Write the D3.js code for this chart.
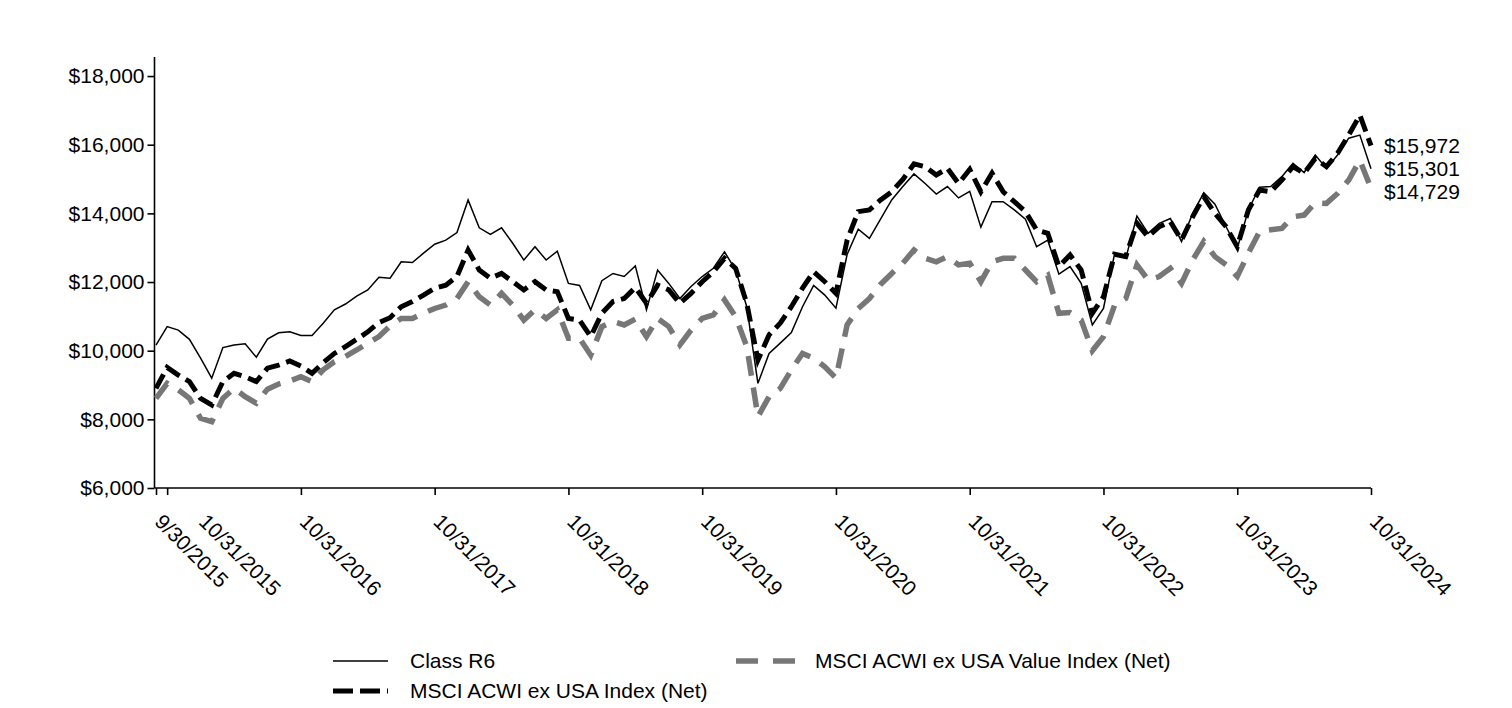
<!DOCTYPE html>
<html>
<head>
<meta charset="utf-8">
<script src="https://cdn.jsdelivr.net/npm/d3@7"></script>
<style>
  html, body { margin: 0; padding: 0; background: #fff; }
  svg text { font-family: Arial, "Liberation Sans", sans-serif; fill: #000; }
</style>
</head>
<body>
<svg id="chart" width="1512" height="708"></svg>
<script>
// ---- Data (monthly, 9/30/2015 .. 10/31/2024) ----
const seriesNames = ["Class R6", "MSCI ACWI ex USA Index (Net)", "MSCI ACWI ex USA Value Index (Net)"];

const classR6 = [
  10165,10700,10600,10330,9780,9200,10090,10165,10200,9810,10340,10520,10550,10440,10440,10800,
  11190,11360,11590,11770,12140,12110,12590,12570,12840,13100,13220,13440,14390,13580,13390,13580,
  13130,12640,13030,12640,12900,11960,11900,11190,12040,12250,12160,12470,11190,12350,11960,11520,
  11870,12160,12400,12880,12350,11280,9050,9920,10220,10530,11280,11900,11620,11240,12800,13540,
  13270,13830,14390,14780,15150,14870,14560,14780,14450,14640,13600,14340,14340,14100,13830,13030,
  13220,12230,12450,11960,10750,11230,12830,12690,13920,13420,13710,13850,13180,14000,14600,14270,
  13610,12980,14100,14760,14780,15070,15460,15190,15700,15310,15700,16190,16280,15301
];

const acwiExUsa = [
  8900,9515,9290,9100,8610,8420,9100,9340,9240,9100,9490,9580,9700,9550,9340,9650,
  9920,10120,10330,10550,10820,10960,11280,11430,11620,11820,11910,12160,12930,12350,12110,12250,
  12010,11770,12010,11770,11720,10940,10890,10410,11090,11430,11520,11840,11380,11910,11770,11380,
  11670,12010,12300,12690,12400,11380,9730,10460,10800,11280,11820,12300,12010,11670,13220,14050,
  14100,14390,14630,14990,15440,15360,15120,15310,14870,15280,14630,15170,14630,14340,14050,13520,
  13420,12450,12790,12350,11090,11570,12810,12740,13710,13320,13610,13760,13220,13900,14490,14000,
  13610,13030,14100,14680,14630,14970,15360,15170,15600,15360,15750,16280,16860,15972
];

const acwiExUsaValue = [
  8610,9050,8860,8610,8030,7930,8610,8900,8660,8470,8880,9030,9120,9240,9100,9440,
  9680,9830,10020,10220,10410,10720,10940,10940,11090,11230,11330,11520,12010,11570,11330,11670,
  11330,10890,11190,10940,11190,10360,10360,9870,10700,10850,10750,10920,10410,10940,10700,10170,
  10600,10940,11040,11480,10990,10120,8080,8660,8900,9440,9920,9780,9530,9200,10750,11230,
  11520,11930,12250,12550,12930,12690,12590,12740,12500,12550,12010,12590,12690,12690,12350,12010,
  12200,11090,11110,10890,10000,10410,11330,11520,12500,12060,12160,12400,11960,12640,13180,12740,
  12500,12160,12840,13470,13520,13560,13900,13950,14310,14290,14580,14970,15550,14729
];

const xTickIndex = [0, 1, 13, 25, 37, 49, 61, 73, 85, 97, 109];
const xTickLabels = ["9/30/2015","10/31/2015","10/31/2016","10/31/2017","10/31/2018","10/31/2019",
                     "10/31/2020","10/31/2021","10/31/2022","10/31/2023","10/31/2024"];
const yTickValues = [6000, 8000, 10000, 12000, 14000, 16000, 18000];

// ---- Chart ----
const svg = d3.select("#chart");
const FONT = 21;

const x = d3.scaleLinear().domain([0, classR6.length - 1]).range([156, 1371]);
const y = d3.scaleLinear().domain([6000, 18555]).range([488, 57]);

// y axis
const yAxis = svg.append("g")
  .attr("transform", "translate(154.5,0)")
  .call(d3.axisLeft(y).tickValues(yTickValues).tickSize(7).tickPadding(3)
        .tickFormat(d => "$" + d3.format(",")(d)));
yAxis.selectAll("path, line").attr("stroke", "#000").attr("stroke-width", 1.6);
yAxis.select(".domain").attr("d", `M0,${y.range()[0]}V${y.range()[1]}`);
yAxis.selectAll("text").style("font-size", FONT + "px");

// x axis
const xAxis = svg.append("g")
  .attr("transform", "translate(0,488)")
  .call(d3.axisBottom(x).tickValues(xTickIndex).tickSize(7)
        .tickFormat((d, i) => xTickLabels[i]));
xAxis.selectAll("path, line").attr("stroke", "#000").attr("stroke-width", 1.6);
xAxis.select(".domain").attr("d", `M154.5,0H${x.range()[1]}`);
xAxis.selectAll("text")
  .style("font-size", FONT + "px")
  .attr("x", 0).attr("y", 0).attr("dy", null)
  .attr("text-anchor", "start")
  .attr("transform", (d, i) => `translate(${i === 1 ? 30 : -3},35) rotate(45)`);

// lines
const lineGen = d3.line().x((d, i) => x(i)).y(d => y(d));

const styles = [
  { data: acwiExUsaValue, stroke: "#777777", width: 5.5, dash: "20,12" },
  { data: acwiExUsa,      stroke: "#000000", width: 5,   dash: "16,7" },
  { data: classR6,        stroke: "#000000", width: 1.5, dash: null }
];
styles.forEach(s => {
  svg.append("path")
    .datum(s.data)
    .attr("fill", "none")
    .attr("stroke", s.stroke)
    .attr("stroke-width", s.width)
    .attr("stroke-dasharray", s.dash)
    .attr("stroke-linejoin", "miter")
    .attr("d", lineGen);
});

// end labels with collision avoidance
const ends = [
  { v: acwiExUsa[acwiExUsa.length - 1] },
  { v: classR6[classR6.length - 1] },
  { v: acwiExUsaValue[acwiExUsaValue.length - 1] }
].sort((a, b) => b.v - a.v);
let prevY = -Infinity;
ends.forEach(e => {
  let yy = y(e.v);
  if (yy < prevY + 23) yy = prevY + 23;
  prevY = yy;
  svg.append("text")
    .attr("x", 1384).attr("y", yy).attr("dy", "0.35em")
    .style("font-size", FONT + "px")
    .text("$" + d3.format(",")(e.v));
});

// legend
const legendItems = [
  { name: seriesNames[0], stroke: "#000", width: 1.5, dash: null,   lx: 333, ly: 661, len: 55, gap: 22 },
  { name: seriesNames[2], stroke: "#777777", width: 5.5, dash: "22,15", lx: 736, ly: 661, len: 60, gap: 19 },
  { name: seriesNames[1], stroke: "#000", width: 5,   dash: "20,7", lx: 333, ly: 691, len: 55, gap: 22 }
];
legendItems.forEach(it => {
  svg.append("line")
    .attr("x1", it.lx).attr("x2", it.lx + it.len)
    .attr("y1", it.ly).attr("y2", it.ly)
    .attr("stroke", it.stroke).attr("stroke-width", it.width)
    .attr("stroke-dasharray", it.dash);
  svg.append("text")
    .attr("x", it.lx + it.len + it.gap).attr("y", it.ly).attr("dy", "0.35em")
    .style("font-size", FONT + "px")
    .text(it.name);
});
</script>
</body>
</html>
